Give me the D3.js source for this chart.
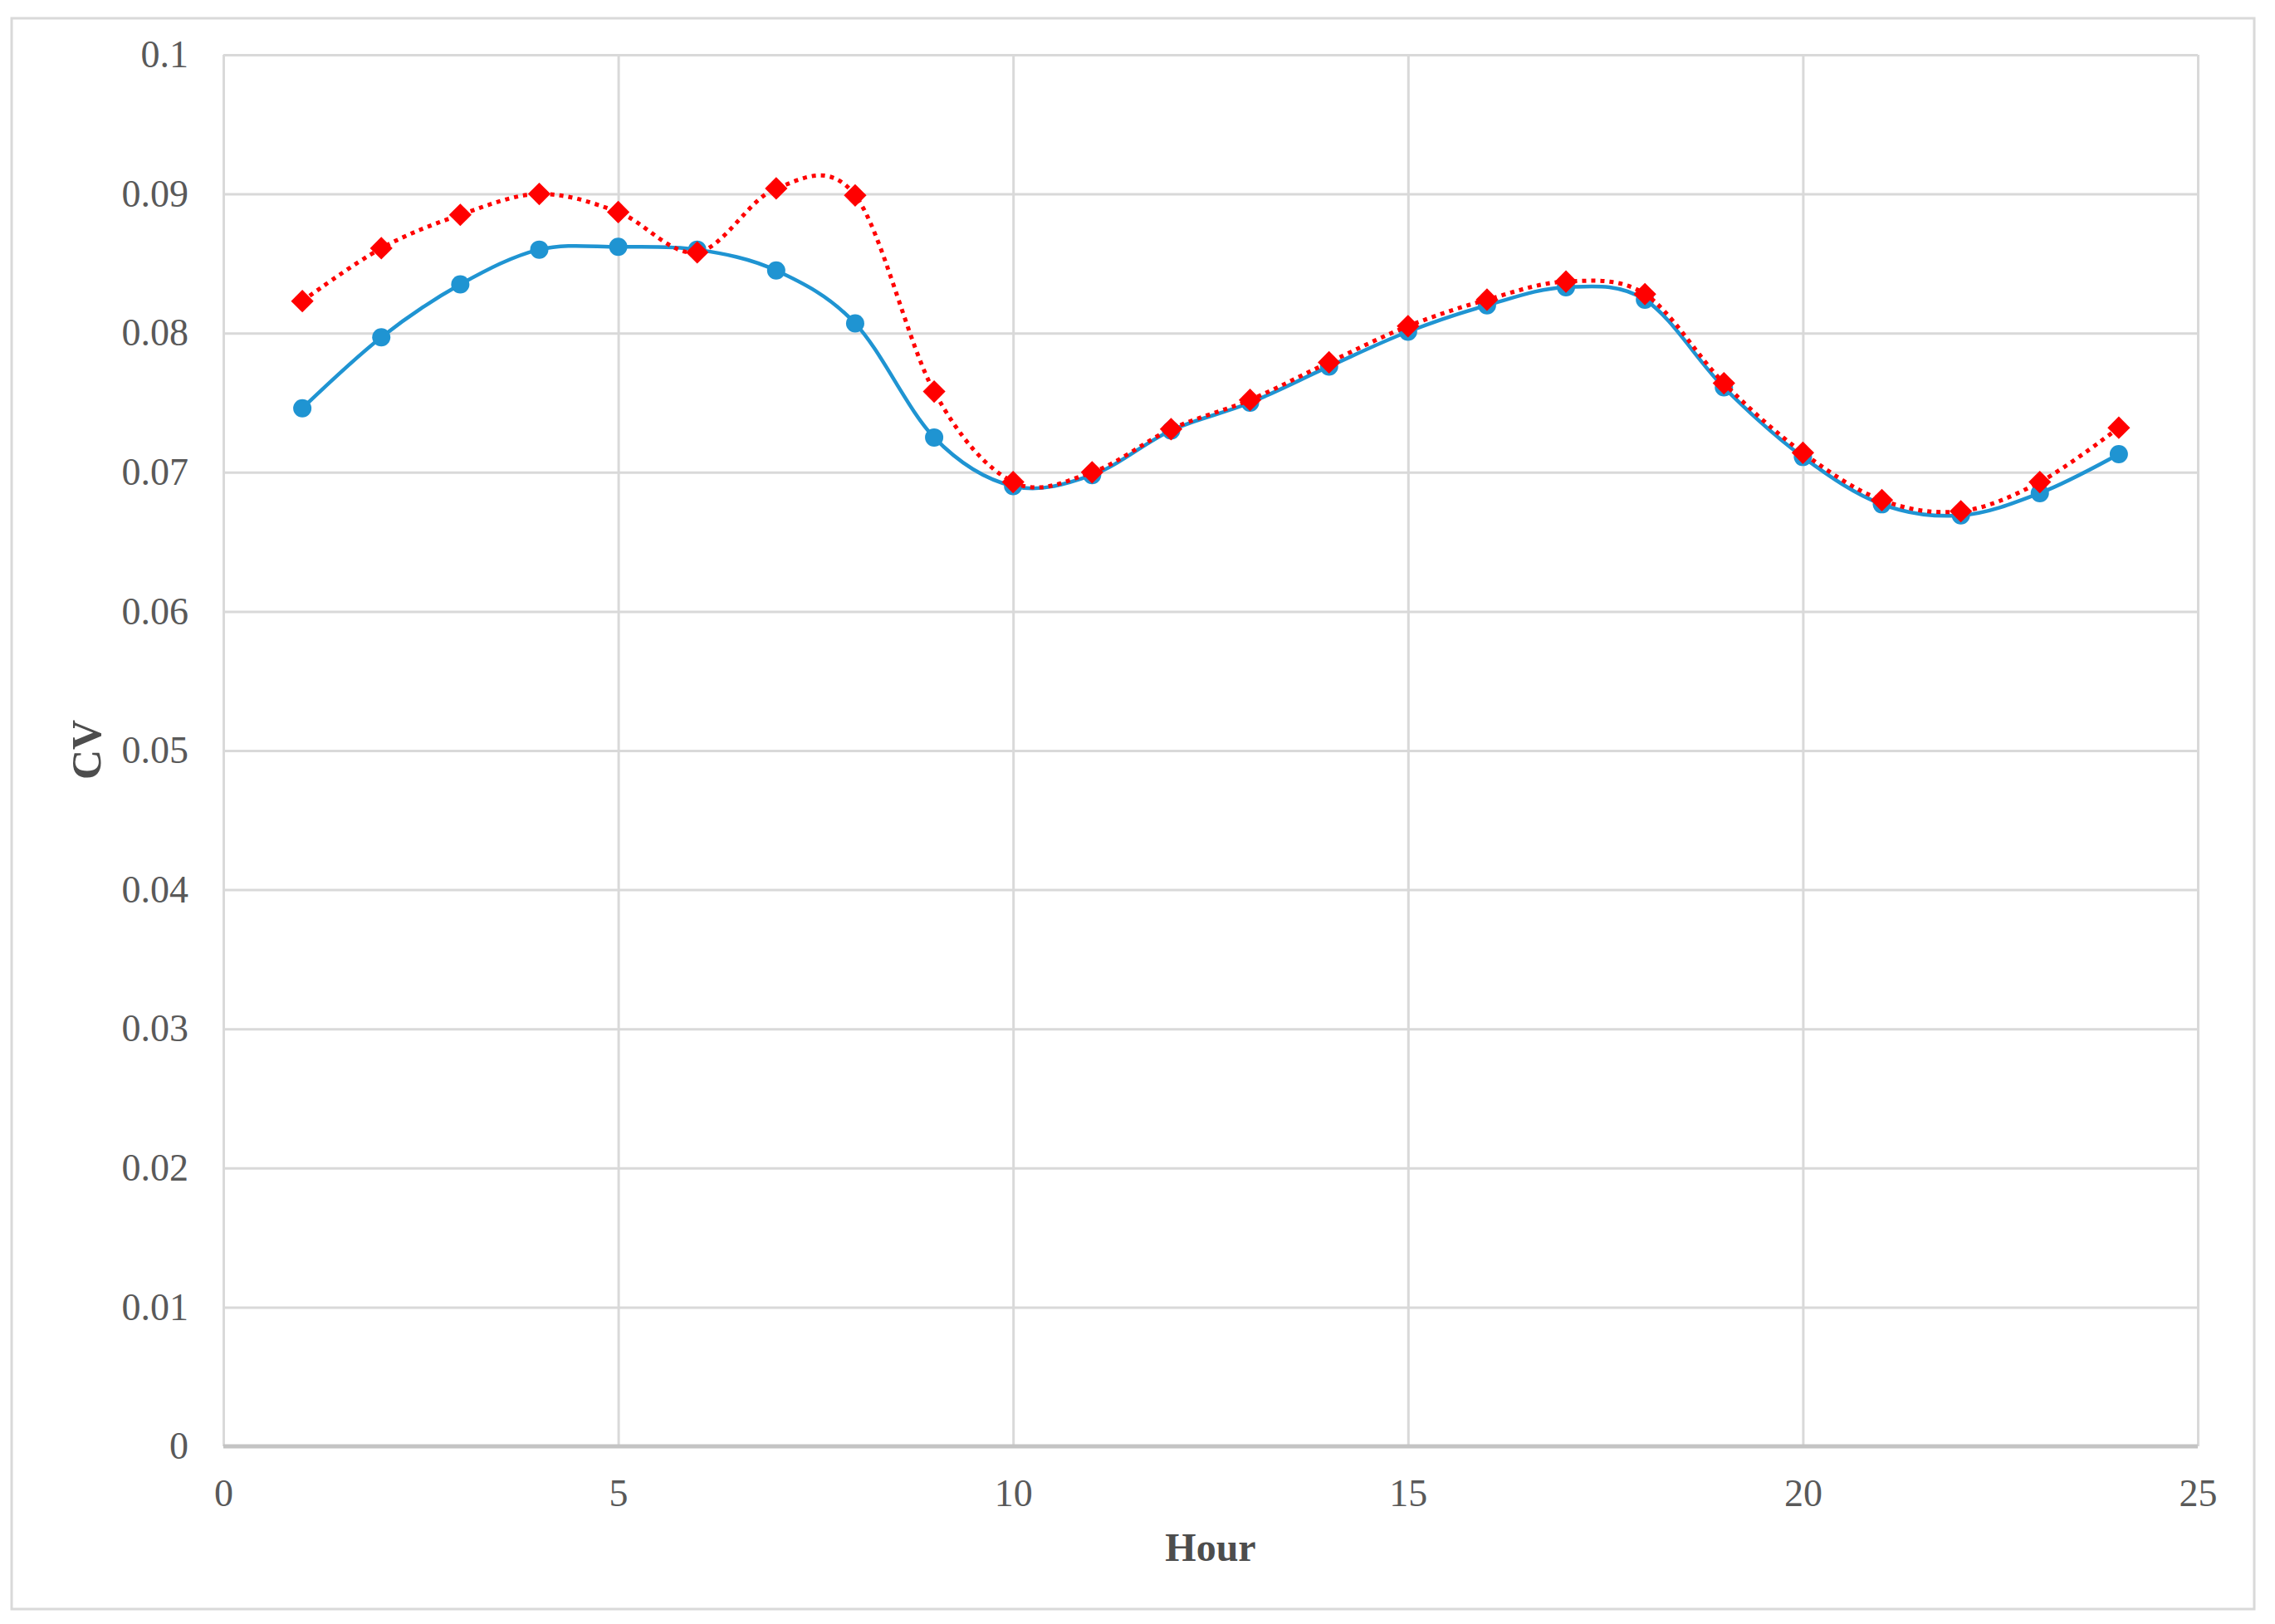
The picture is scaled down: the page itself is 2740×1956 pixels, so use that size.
<!DOCTYPE html>
<html>
<head>
<meta charset="utf-8">
<script src="https://cdn.jsdelivr.net/npm/d3@7"></script>
<style>
    html, body { margin: 0; padding: 0; background: #fff; overflow: hidden; }
    svg { display: block; }
    text { font-family: "Liberation Serif", "DejaVu Serif", serif; }
</style>
</head>
<body>
<div id="chart"></div>
<script>

// hours 1..24
const hours = d3.range(1, 25)

// blue series, solid line with circles
const seriesBlue = [0.0746, 0.0797, 0.0835, 0.0860, 0.0862, 0.0860, 0.0845, 0.0807, 0.0725, 0.0690, 0.0698, 0.0730,
                    0.0750, 0.0776, 0.0801, 0.0820, 0.0833, 0.0824, 0.0761, 0.0711, 0.0677, 0.0669, 0.0685, 0.0713]

// red series, dotted line with diamonds
const seriesRed = [0.0823, 0.0861, 0.0885, 0.0900, 0.0887, 0.0858, 0.0904, 0.0899, 0.0758, 0.0693, 0.0700, 0.0731,
                   0.0752, 0.0779, 0.0805, 0.0824, 0.0837, 0.0828, 0.0764, 0.0714, 0.0680, 0.0672, 0.0693, 0.0732]

const xTicks = [0, 5, 10, 15, 20, 25]
const yTicks = [0, 0.01, 0.02, 0.03, 0.04, 0.05, 0.06, 0.07, 0.08, 0.09, 0.1]

const xTitle = 'Hour'
const yTitle = 'CV'

const svgWidth = 2740
const svgHeight = 1956

//plot area inside the frame
const margin = { top: 66, right: 93, bottom: 214, left: 269 }
const innerWidth = svgWidth - margin.left - margin.right
const innerHeight = svgHeight - margin.top - margin.bottom

const gridColor = '#d9d9d9'
const labelColor = '#595959'
const blue = '#1f94d2'
const red = '#ff0000'

const svg = d3.select('#chart')
    .append('svg')
        .attr('width', svgWidth)
        .attr('height', svgHeight)

// outer chart frame
svg.append('rect')
    .attr('x', 14)
    .attr('y', 22)
    .attr('width', 2701)
    .attr('height', 1916)
    .attr('fill', '#fff')
    .attr('stroke', gridColor)
    .attr('stroke-width', 3)

const xScale = d3.scaleLinear()
    .domain([0, 25])
    .range([0, innerWidth])

const yScale = d3.scaleLinear()
    .domain([0, 0.1])
    .range([innerHeight, 0])

const g = svg.append('g')
    .attr('transform', `translate(${margin.left}, ${margin.top})`)

//y axis with horizontal gridlines
const yAxis = d3.axisLeft(yScale)
    .tickValues(yTicks)
    .tickFormat(d => d3.format('~g')(+d.toFixed(2)))
    .tickSizeInner(-innerWidth)
    .tickSizeOuter(0)
    .tickPadding(42)

const yAxisG = g.append('g').call(yAxis)
yAxisG.select('.domain').remove()
yAxisG.selectAll('line').attr('stroke', gridColor).attr('stroke-width', 3)
yAxisG.selectAll('text')
    .attr('fill', labelColor)
    .style('font-size', '46px')

//x axis with vertical gridlines
const xAxis = d3.axisBottom(xScale)
    .tickValues(xTicks)
    .tickSizeInner(-innerHeight)
    .tickSizeOuter(0)
    .tickPadding(39)

const xAxisG = g.append('g')
    .attr('transform', `translate(0, ${innerHeight})`)
    .call(xAxis)
xAxisG.select('.domain').remove()
xAxisG.selectAll('line').attr('stroke', gridColor).attr('stroke-width', 3)
xAxisG.selectAll('text')
    .attr('fill', labelColor)
    .style('font-size', '46px')

// bottom axis line, a bit heavier than the grid
g.append('line')
    .attr('x1', xScale(0))
    .attr('x2', xScale(25))
    .attr('y1', yScale(0))
    .attr('y2', yScale(0))
    .attr('stroke', '#c4c4c4')
    .attr('stroke-width', 5)

//axis titles
g.append('text')
    .attr('x', xScale(12.5))
    .attr('y', innerHeight + 121)
    .attr('dy', '0.35em')
    .attr('text-anchor', 'middle')
    .attr('fill', '#4d4d4d')
    .style('font-size', '48px')
    .style('font-weight', 'bold')
    .text(xTitle)

g.append('text')
    .attr('transform', `translate(${103 - margin.left}, ${yScale(0.05) - 1}) rotate(-90)`)
    .attr('dy', '0.35em')
    .attr('text-anchor', 'middle')
    .attr('fill', '#4d4d4d')
    .style('font-size', '50px')
    .style('font-weight', 'bold')
    .text(yTitle)

const blueData = hours.map((h, i) => ({ x: h, y: seriesBlue[i] }))
const redData = hours.map((h, i) => ({ x: h, y: seriesRed[i] }))

//smoothed lines like excel's "smoothed line" option
const line = d3.line()
    .x(d => xScale(d.x))
    .y(d => yScale(d.y))
    .curve(d3.curveCardinal.tension(0))

g.append('path')
    .datum(blueData)
    .attr('d', line)
    .attr('fill', 'none')
    .attr('stroke', blue)
    .attr('stroke-width', 4.5)

g.selectAll('.blue-point')
    .data(blueData)
    .enter()
    .append('circle')
        .attr('class', 'blue-point')
        .attr('cx', d => xScale(d.x))
        .attr('cy', d => yScale(d.y))
        .attr('r', 11)
        .attr('fill', blue)

g.append('path')
    .datum(redData)
    .attr('d', line)
    .attr('fill', 'none')
    .attr('stroke', red)
    .attr('stroke-width', 5)
    .attr('stroke-dasharray', '5,6')

const diamond = d3.symbol().type(d3.symbolSquare).size(370)

g.selectAll('.red-point')
    .data(redData)
    .enter()
    .append('path')
        .attr('class', 'red-point')
        .attr('d', diamond)
        .attr('transform', d => `translate(${xScale(d.x)}, ${yScale(d.y)}) rotate(45)`)
        .attr('fill', red)

</script>
</body>
</html>
